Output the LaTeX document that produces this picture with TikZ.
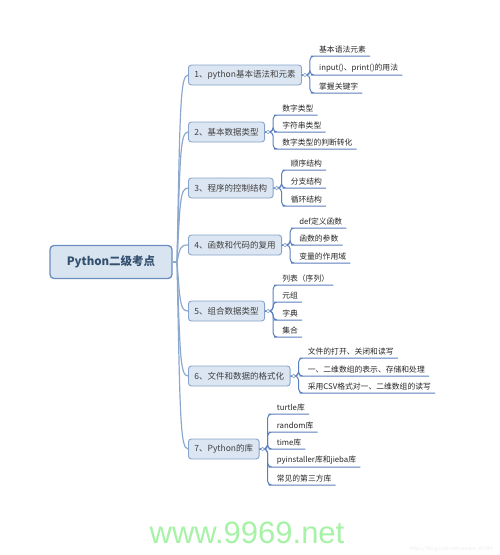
\documentclass[tikz,border=0pt]{standalone}
\usepackage{fontspec}
\setmainfont{Noto Sans CJK SC}
\newfontfamily\wmfont{Liberation Sans}
\usetikzlibrary{calc}
\definecolor{boxfill}{HTML}{DCE6F2}
\definecolor{boxline}{HTML}{86A3CB}
\definecolor{rootline}{HTML}{6A8DC0}
\definecolor{rootfill}{HTML}{D9E4F1}
\definecolor{roottext}{HTML}{34506F}
\definecolor{uline}{HTML}{5A80BF}
\definecolor{trunkc}{HTML}{8CA8CE}
\definecolor{wmgreen}{HTML}{A6F2A6}
\tikzset{
  rootbox/.style={draw=rootline, fill=rootfill, line width=1.3pt, rounded corners=4pt,
    minimum width=122pt, minimum height=33pt, font=\fontsize{11.5}{13}\selectfont\bfseries, text=roottext},
  topicbox/.style={draw=boxline, fill=boxfill, line width=0.9pt, rounded corners=3pt,
    minimum height=20pt, inner xsep=6pt, anchor=west, font=\fontsize{8.5}{10}\selectfont, text=black!75},
  subitem/.style={anchor=south west, inner xsep=4pt, inner ysep=2.5pt, font=\fontsize{7.8}{9}\selectfont, text=black!85},
  trunk/.style={draw=trunkc, line width=1.2pt},
  link/.style={draw=uline, line width=1pt, rounded corners=4pt},
  knob/.style={draw=boxline, fill=white, line width=0.6pt},
}
\begin{document}
\begin{tikzpicture}[x=1pt,y=-1pt]
\useasboundingbox (0,0) rectangle (500,555);
% root
\node[rootbox] (root) at (111,262) {Python二级考点};
\coordinate (j) at (177,262);
% main topics
\node[topicbox] (n1) at (188,75) {1、python基本语法和元素};
\node[topicbox] (n2) at (188,132) {2、基本数据类型};
\node[topicbox] (n3) at (188,188) {3、程序的控制结构};
\node[topicbox] (n4) at (188,245) {4、函数和代码的复用};
\node[topicbox] (n5) at (188,311) {5、组合数据类型};
\node[topicbox] (n6) at (188,376) {6、文件和数据的格式化};
\node[topicbox] (n7) at (188,449) {7、Python的库};
% trunk
\draw[trunk] (root.east) -- (j);
\draw[trunk] (j) .. controls +(3,-150) and +(-8,0) .. (n1.west);
\draw[trunk] (j) .. controls +(3,-104) and +(-8,0) .. (n2.west);
\draw[trunk] (j) .. controls +(3,-59) and +(-8,0) .. (n3.west);
\draw[trunk] (j) .. controls +(3,-14) and +(-8,0) .. (n4.west);
\draw[trunk] (j) .. controls +(3,39) and +(-8,0) .. (n5.west);
\draw[trunk] (j) .. controls +(3,91) and +(-8,0) .. (n6.west);
\draw[trunk] (j) .. controls +(3,150) and +(-8,0) .. (n7.west);
% group 1
\node[subitem] (c11) at ($(n1.east)+(13,-19)$) {基本语法元素};
\node[subitem] (c12) at ($(n1.east)+(13,0)$) {input()、print()的用法};
\node[subitem] (c13) at ($(n1.east)+(13,18)$) {掌握关键字};
% group 2
\node[subitem] (c21) at ($(n2.east)+(13,-17)$) {数字类型};
\node[subitem] (c22) at ($(n2.east)+(13,0)$) {字符串类型};
\node[subitem] (c23) at ($(n2.east)+(13,17)$) {数字类型的判断转化};
% group 3
\node[subitem] (c31) at ($(n3.east)+(13,-18)$) {顺序结构};
\node[subitem] (c32) at ($(n3.east)+(13,0)$) {分支结构};
\node[subitem] (c33) at ($(n3.east)+(13,18)$) {循环结构};
% group 4
\node[subitem] (c41) at ($(n4.east)+(13,-17)$) {def定义函数};
\node[subitem] (c42) at ($(n4.east)+(13,0)$) {函数的参数};
\node[subitem] (c43) at ($(n4.east)+(13,18)$) {变量的作用域};
% group 5
\node[subitem] (c51) at ($(n5.east)+(13,-26)$) {列表（序列）};
\node[subitem] (c52) at ($(n5.east)+(13,-9)$) {元组};
\node[subitem] (c53) at ($(n5.east)+(13,9)$) {字典};
\node[subitem] (c54) at ($(n5.east)+(13,26)$) {集合};
% group 6
\node[subitem] (c61) at ($(n6.east)+(13,-18)$) {文件的打开、关闭和读写};
\node[subitem] (c62) at ($(n6.east)+(13,0)$) {一、二维数组的表示、存储和处理};
\node[subitem] (c63) at ($(n6.east)+(13,17)$) {采用CSV格式对一、二维数组的读写};
% group 7
\node[subitem] (c71) at ($(n7.east)+(13,-35)$) {turtle库};
\node[subitem] (c72) at ($(n7.east)+(13,-17)$) {random库};
\node[subitem] (c73) at ($(n7.east)+(13,0)$) {time库};
\node[subitem] (c74) at ($(n7.east)+(13,18)$) {pyinstaller库和jieba库};
\node[subitem] (c75) at ($(n7.east)+(13,36)$) {常见的第三方库};
% links
\foreach \p/\cs in {n1/{c11,c12,c13}, n2/{c21,c22,c23}, n3/{c31,c32,c33}, n4/{c41,c42,c43},
                    n5/{c51,c52,c53,c54}, n6/{c61,c62,c63}, n7/{c71,c72,c73,c74,c75}}{
  \foreach \c in \cs {
    \draw[link] (\p.east) -- ++(8,0) |- (\c.south west) -- (\c.south east);
  }
  \draw[knob] ($(\p.east)+(3,0)$) circle (1.8);
}
% watermarks
\node[font=\wmfont\fontsize{31}{31}\selectfont, text=wmgreen, anchor=base] (wm) at (247,543) {www.9969.net};
\node[font=\fontsize{5}{6}\selectfont, text=black!8, anchor=base east] (wm2) at (496,550) {https://blog.csdn.net/weixin\_45784};
\end{tikzpicture}
\end{document}
